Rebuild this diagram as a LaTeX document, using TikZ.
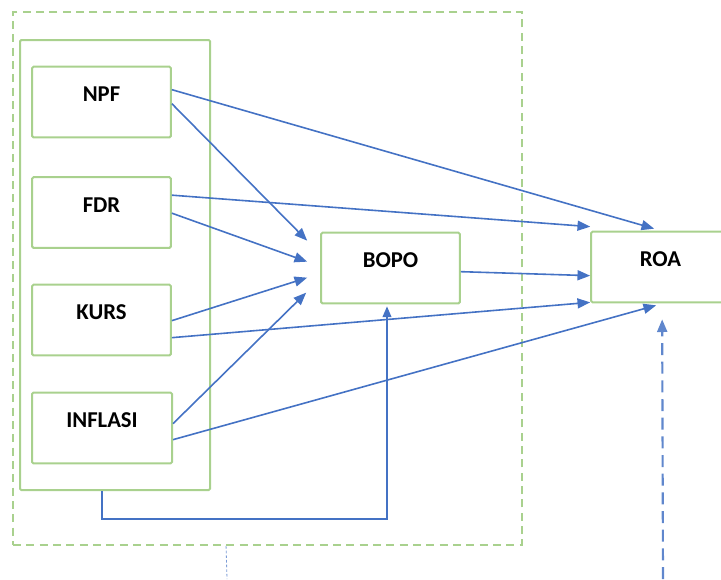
\documentclass[tikz,border=0pt]{standalone}
\usepackage{fontspec}
\setmainfont{Carlito}
\usetikzlibrary{arrows.meta,calc}
\definecolor{boxgreen}{HTML}{A9D18E}
\definecolor{linkblue}{HTML}{4472C4}
\tikzset{
  varbox/.style={draw=boxgreen, line width=1.5pt, rounded corners=1pt, fill=white,
    minimum width=104pt, minimum height=53pt, inner sep=0pt,
    font=\fontsize{17}{18}\selectfont\bfseries,
    text height=11.25pt, text depth=12pt},
  grpbox/.style={draw=boxgreen, line width=1.5pt, rounded corners=1pt, inner sep=0pt},
  link/.style={draw=linkblue, line width=1.2pt, -{Triangle[length=9.5pt,width=7.5pt]}},
}
\begin{document}
\begin{tikzpicture}[x=0.75pt, y=-0.75pt]
\useasboundingbox (0,0) rectangle (721,579);
\clip (0,0) rectangle (721,579);

% dashed frame around the independent block and BOPO
\node[draw=boxgreen, line width=1.4pt, dash pattern=on 6pt off 4pt, inner sep=0pt,
      minimum width=381.75pt, minimum height=399.75pt] (outer) at (267.5,278.5) {};

% grouping rectangle of the four independent variables
\node[grpbox, minimum width=142.5pt, minimum height=337.5pt] (grp) at (115,265) {};

% variables
\node[varbox] (npf) at (101.5,102) {NPF};
\node[varbox] (fdr) at (101.5,212.5) {FDR};
\node[varbox] (kurs) at (101.5,320) {KURS};
\node[varbox, minimum width=105pt] (inf) at (102,428) {INFLASI};
\node[varbox] (bopo) at (390.5,268) {BOPO};
\node[varbox] (roa) at (660.5,267) {ROA};

% direct and mediated paths
\draw[link] ($(npf.north east)+(0,24)$) -- ($(roa.north west)+(64,-2)$);
\draw[link] ($(npf.north east)+(0,38)$) -- ($(bopo.north west)+(-13,9)$);
\draw[link] ($(fdr.north east)+(0,19)$) -- ($(roa.north west)+(0,-4)$);
\draw[link] ($(fdr.north east)+(0,37)$) -- ($(bopo.north west)+(-13,30)$);
\draw[link] ($(kurs.north east)+(0,37)$) -- ($(bopo.north west)+(-13,46)$);
\draw[link] ($(kurs.north east)+(0,54)$) -- ($(roa.south west)+(0,-1)$);
\draw[link] ($(inf.north east)+(0,32)$) -- ($(bopo.north west)+(-14,61)$);
\draw[link] ($(inf.north east)+(0,48)$) -- ($(roa.south west)+(66,2)$);
\draw[link] ($(bopo.north east)+(0,40)$) -- ($(roa.north west)+(0,45)$);

% joint effect of the group on BOPO
\coordinate (gb) at ($(grp.south west)+(83,0)$);
\draw[link, -{Triangle[length=8pt,width=6.5pt]}] (gb) -- ++(0,28) -| ($(bopo.south)+(-3.5,2)$);

% incoming dashed arrow to ROA and dotted line below the frame
\coordinate (dstart) at (663,579);
\draw[link, draw=linkblue!85, line width=1.6pt, dash pattern=on 9pt off 5pt] (dstart) -- ($(roa.south west)+(72,16)$);
\coordinate (dotend) at (227,579);
\draw[draw=linkblue!70, line width=0.6pt, dash pattern=on 2pt off 1.5pt]
  ($(outer.south west)+(214,0)$) -- (dotend);
\end{tikzpicture}
\end{document}
